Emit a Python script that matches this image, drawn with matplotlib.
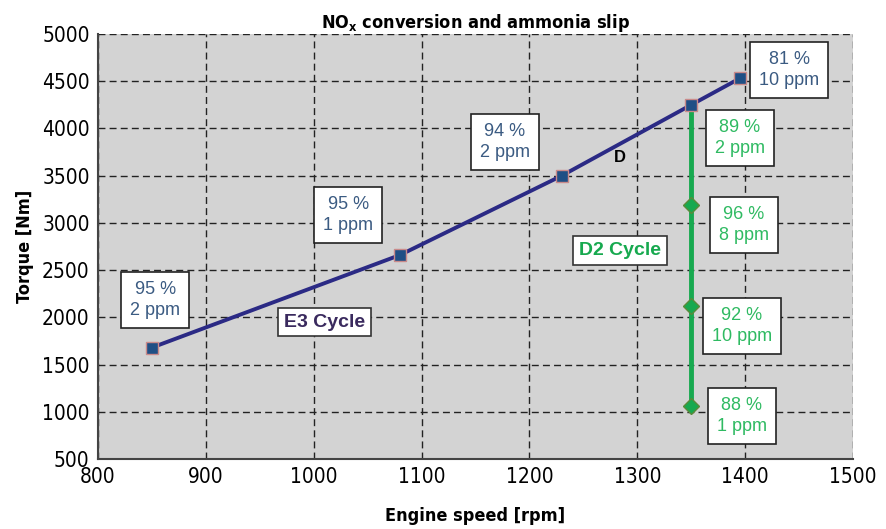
import numpy as np
import matplotlib.pyplot as plt

## ------------  Data  ---------------
e3_speed = [850, 1080, 1230, 1350, 1395]
e3_torque = [1680, 2660, 3500, 4250, 4530]
e3_labels = ['95 %\n2 ppm', '95 %\n1 ppm', '94 %\n2 ppm', '', '81 %\n10 ppm']

d2_speed = [1350, 1350, 1350, 1350]
d2_torque = [4250, 3190, 2120, 1060]
d2_labels = ['89 %\n2 ppm', '96 %\n8 ppm', '92 %\n10 ppm', '88 %\n1 ppm']

x_ticks = [800, 900, 1000, 1100, 1200, 1300, 1400, 1500]
y_ticks = [500, 1000, 1500, 2000, 2500, 3000, 3500, 4000, 4500, 5000]

## ------------  Layout (label anchors) ---------------
e3_label_pos = [(853, 2180), (1032, 3080), (1177, 3860), None, (1441, 4620)]
d2_label_pos = [(1395, 3900), (1399, 2980), (1397, 1910), (1397, 955)]

## ------------  Styles ---------------
navy = '#2b2a85'
sq_face = '#1f4f85'
sq_edge = '#c98a8a'
green = '#17a94f'
blue_txt = '#3b5b82'
green_txt = '#2fba62'
cond = dict(family='DejaVu Sans', fontstretch='condensed')
sans = ['Liberation Sans', 'DejaVu Sans']

fig = plt.figure(figsize=(8.87, 5.29), dpi=100)
ax = fig.add_axes([0.1105, 0.1323, 0.8512, 0.8034])
ax.set_facecolor('#d3d3d3')

ax.plot(d2_speed, d2_torque, color=green, lw=3.5, zorder=3)
ax.plot(d2_speed[1:], d2_torque[1:], ls='none', marker='D', ms=8,
        mfc=green, mec='#5b8a3a', zorder=4)
ax.plot(e3_speed, e3_torque, color=navy, lw=2.8, zorder=5)
ax.plot(e3_speed, e3_torque, ls='none', marker='s', ms=9,
        mfc=sq_face, mec=sq_edge, mew=1, zorder=6)

box = dict(boxstyle='square,pad=0.5', fc='white', ec='#222222', lw=1.2)
for lab, pos in zip(e3_labels, e3_label_pos):
    if pos is None:
        continue
    ax.text(pos[0], pos[1], lab, color=blue_txt, fontsize=13, ha='center',
            va='center', linespacing=1.3, bbox=box, zorder=7, family=sans)
for lab, pos in zip(d2_labels, d2_label_pos):
    ax.text(pos[0], pos[1], lab, color=green_txt, fontsize=13, ha='center',
            va='center', linespacing=1.3, bbox=box, zorder=7, family=sans)

ax.text(1010, 1950, 'E3 Cycle', color='#3a2a5e', fontsize=14, fontweight='bold',
        ha='center', va='center', zorder=7, family=sans,
        bbox=dict(boxstyle='square,pad=0.3', fc='white', ec='#333333', lw=1.2))
ax.text(1284, 2710, 'D2 Cycle', color=green, fontsize=14, fontweight='bold',
        ha='center', va='center', zorder=7, family=sans,
        bbox=dict(boxstyle='square,pad=0.3', fc='white', ec='#333333', lw=1.2))
ax.text(1284, 3690, 'D', color='black', fontsize=12, fontweight='bold',
        ha='center', va='center', zorder=7, family=sans)

ax.set_xlim(800, 1500)
ax.set_ylim(500, 5000)
ax.set_xticks(x_ticks)
ax.set_yticks(y_ticks)
ax.set_xticklabels([str(v) for v in x_ticks], fontsize=15, **cond)
ax.set_yticklabels([str(v) for v in y_ticks], fontsize=15, **cond)
ax.tick_params(length=0, pad=6)
ax.grid(True, color='#222222', ls=(0, (5, 3)), lw=1)
ax.set_axisbelow(True)
for s in ['top', 'right']:
    ax.spines[s].set_visible(False)
for s in ['left', 'bottom']:
    ax.spines[s].set_color('#444444')
    ax.spines[s].set_linewidth(1.5)

ax.set_title('NO$_\\mathregular{x}$ conversion and ammonia slip', fontsize=13,
             fontweight='bold', pad=4, **cond)
ax.set_xlabel('Engine speed [rpm]', fontsize=13, fontweight='bold',
              labelpad=14, **cond)
ax.set_ylabel('Torque [Nm]', fontsize=13, fontweight='bold', labelpad=6, **cond)

fig.savefig('out.png', dpi=100)
